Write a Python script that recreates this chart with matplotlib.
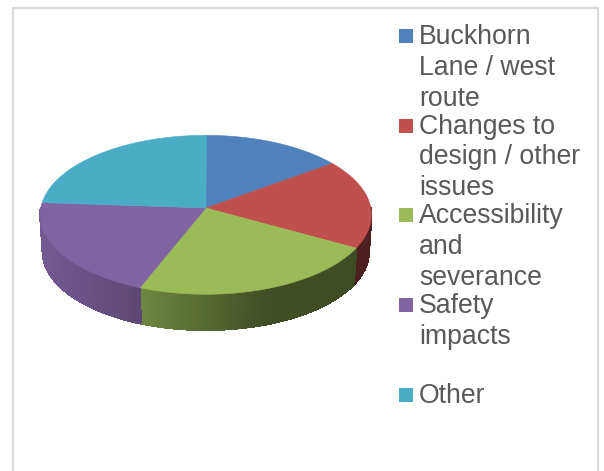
import numpy as np
import matplotlib
matplotlib.use('Agg')
import matplotlib.pyplot as plt
from matplotlib.collections import PolyCollection
from matplotlib.colors import to_rgb
from matplotlib.patches import Polygon, Rectangle

plt.rcParams['font.family'] = ['Liberation Sans', 'DejaVu Sans']

# Share of each slice in percent
categories = ['Buckhorn\nLane / west\nroute', 'Changes to\ndesign / other\nissues',
              'Accessibility\nand\nseverance', 'Safety\nimpacts', 'Other']
values = [14.9, 18.2, 22.9, 20.1, 24.0]
colors = ['#4f81bd', '#c0504d', '#9bbb59', '#8064a2', '#4bacc6']

# Pie geometry in pixels
cx, cy = 205.8, 208
A, B, k = 165.0, 78.9, 0.0855
depth = 37
base_scale = 0.985


# Perspective projection of an angle on the pie rim, clockwise from the top
def project(theta, scale=1.0, drop=0):
    u, v = np.sin(theta), np.cos(theta)
    w = 1 + k * v
    return cx + scale * A * u / w, cy - scale * B * v / w + drop


# Side of the pie gets darker from left to right
def side_shade(x):
    return np.interp(x, [40, 139, 265, 372], [0.90, 0.72, 0.42, 0.40])


fig = plt.figure(figsize=(6.04, 4.71), dpi=100)
ax = fig.add_axes([0, 0, 1, 1])
ax.set_xlim(0, 604)
ax.set_ylim(471, 0)
ax.axis('off')

# Chart frame, open at the bottom
ax.plot([13, 13, 598, 598], [471, 8, 8, 471], color='#d9d9d9', lw=1.6, solid_joinstyle='miter')

edges = np.radians(np.cumsum([0] + values) * 3.6)

# Side wall, front half only
for i in range(len(values)):
    lo = max(edges[i], np.pi / 2)
    hi = min(edges[i + 1], 3 * np.pi / 2)
    if hi <= lo:
        continue
    t = np.linspace(lo, hi, int(np.degrees(hi - lo)) + 2)
    quads = []
    shades = []
    base = np.array(to_rgb(colors[i]))
    for a, b in zip(t[:-1], t[1:]):
        x0, y0 = project(a)
        x1, y1 = project(b)
        x2, y2 = project(b, base_scale, depth)
        x3, y3 = project(a, base_scale, depth)
        quads.append([(x0, y0), (x1, y1), (x2, y2), (x3, y3)])
        shades.append(base * side_shade((x0 + x1) / 2))
    # no antialiasing here, otherwise the seams between the quads show up
    ax.add_collection(PolyCollection(quads, facecolors=shades, edgecolors=shades,
                                     linewidths=0.8, antialiaseds=False))
    # smooth lower rim, one short piece per quad so it follows the shading
    for a, b, shade in zip(t[:-1], t[1:], shades):
        tt = np.linspace(a, b, 4)
        xb, yb = project(tt, base_scale, depth)
        ax.plot(xb, yb, color=shade, lw=1.0, solid_capstyle='round')

# Top face
for i in range(len(values)):
    t = np.linspace(edges[i], edges[i + 1], 120)
    x, y = project(t)
    pts = np.column_stack([np.r_[cx, x], np.r_[cy, y]])
    ax.add_patch(Polygon(pts, closed=True, facecolor=colors[i], edgecolor=colors[i], lw=0.4))

# Legend, drawn by hand because of the wrapped labels
row_baselines = [43.5, 133, 222.5, 312, 402]
for label, color, base_y in zip(categories, colors, row_baselines):
    ax.add_patch(Rectangle((399, base_y - 14.5), 14, 14, facecolor=color, edgecolor='none'))
    for n, line in enumerate(label.split('\n')):
        ax.text(419, base_y + 0.7 + n * 30.8, line, fontsize=19.2, color='#595959',
                va='baseline', ha='left')

plt.savefig('out.png', dpi=100)
